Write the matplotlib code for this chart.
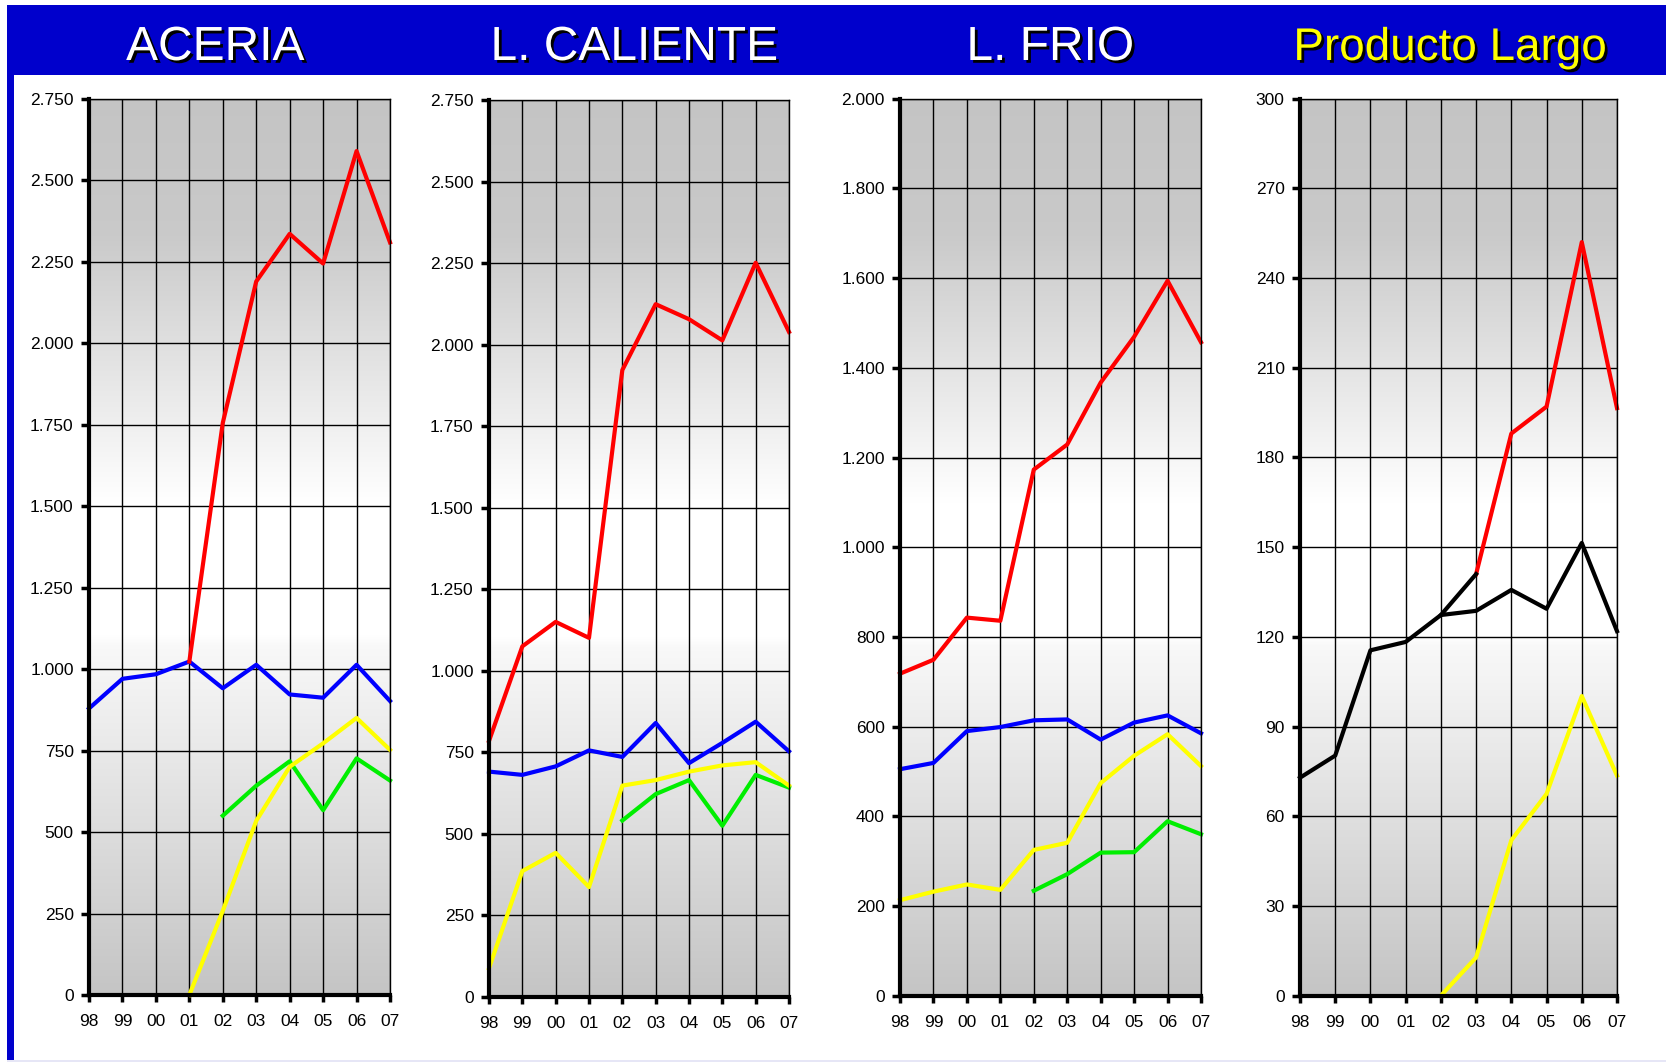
import numpy as np
import matplotlib
matplotlib.use("Agg")
import matplotlib.pyplot as plt
import matplotlib.patheffects as pe
from matplotlib.patches import Rectangle
from matplotlib.ticker import FuncFormatter, MultipleLocator

plt.rcParams['font.family'] = ['Liberation Sans', 'DejaVu Sans']

nan = np.nan
years = ['98', '99', '00', '01', '02', '03', '04', '05', '06', '07']

# ACERIA
aceria_rojo = [nan, nan, nan, 1023, 1755, 2189, 2335, 2244, 2589, 2309]
aceria_azul = [879, 970, 984, 1023, 941, 1013, 922, 912, 1013, 902]
aceria_amarillo = [nan, nan, nan, 0, 258, 534, 700, 772, 850, 752]
aceria_verde = [nan, nan, nan, nan, 550, 642, 717, 567, 726, 658]

# L. CALIENTE
caliente_rojo = [785, 1075, 1150, 1101, 1922, 2124, 2078, 2013, 2251, 2039]
caliente_azul = [691, 681, 707, 756, 736, 840, 717, 779, 844, 753]
caliente_amarillo = [88, 386, 442, 337, 648, 665, 691, 710, 720, 648]
caliente_verde = [nan, nan, nan, nan, 541, 622, 665, 525, 681, 642]

# L. FRIO
frio_rojo = [718, 749, 843, 836, 1173, 1229, 1367, 1469, 1594, 1457]
frio_azul = [505, 519, 590, 599, 614, 616, 571, 609, 625, 585]
frio_amarillo = [213, 232, 248, 236, 325, 341, 474, 535, 583, 512]
frio_verde = [nan, nan, nan, nan, 234, 271, 319, 320, 389, 360]

# Producto Largo
largo_negro = [72.9, 80.3, 115.5, 118.3, 127.3, 128.7, 135.7, 129.4, 151.4, 121.9]
largo_rojo = [nan, nan, nan, nan, 127.3, 141, 188, 197, 252, 196.5]
largo_amarillo = [nan, nan, nan, nan, 0, 12.8, 52, 67.5, 100.2, 73.6]

titulos = ['ACERIA', 'L. CALIENTE', 'L. FRIO', 'Producto Largo']
color_titulo = ['white', 'white', 'white', '#FFFF00']
tam_titulo = [34.5, 34.5, 34.5, 33]
y_max = [2750, 2750, 2000, 300]
y_paso = [250, 250, 200, 30]

W, H = 1666, 1062
fig = plt.figure(figsize=(W / 100, H / 100), dpi=100, facecolor='white')

def caja(x0, y0, x1, y1):
    # pixel box (top-left origin) -> figure fraction rect
    return [x0 / W, 1 - y1 / H, (x1 - x0) / W, (y1 - y0) / H]

# marco azul
fig.add_artist(Rectangle((7 / W, 1 - 75 / H), 1, 70 / H, transform=fig.transFigure,
                         facecolor='#0000CC', edgecolor='none', zorder=0))
fig.add_artist(Rectangle((7 / W, 1 - 1060 / H), 7 / W, 1055 / H, transform=fig.transFigure,
                         facecolor='#0000CC', edgecolor='none', zorder=0))
fig.add_artist(Rectangle((7 / W, 0), 1, 2 / H, transform=fig.transFigure,
                         facecolor='#E6E6F6', edgecolor='none', zorder=0))

posiciones = [(89, 98.6, 390, 995), (489, 100, 789, 997),
              (900, 98.7, 1201, 995.7), (1300, 98.6, 1617, 995.7)]
centros_titulo = [215, 634, 1050, 1450]

# gradiente de fondo: gris arriba, blanco hacia el 40-55 %, gris abajo
f = np.linspace(0, 1, 400)
g = np.interp(f, [0, 0.39, 0.40, 0.55, 0.85, 1.0], [0.77, 0.975, 1.0, 1.0, 0.79, 0.77])
G = np.repeat(g[::-1, None], 2, axis=1)
grad = np.dstack([G, G, G])

series = [
    [(aceria_azul, '#0000FF'), (aceria_rojo, '#FF0000'), (aceria_verde, '#00EE00'), (aceria_amarillo, '#FFFF00')],
    [(caliente_azul, '#0000FF'), (caliente_rojo, '#FF0000'), (caliente_verde, '#00EE00'), (caliente_amarillo, '#FFFF00')],
    [(frio_azul, '#0000FF'), (frio_rojo, '#FF0000'), (frio_verde, '#00EE00'), (frio_amarillo, '#FFFF00')],
    [(largo_negro, 'black'), (largo_amarillo, '#FFFF00')],
]

def miles(v, pos):
    return '{:,.0f}'.format(v).replace(',', '.')

x = np.arange(len(years))

for i in range(4):
    ax = fig.add_axes(caja(*posiciones[i]))
    ax.imshow(grad, extent=[0, 1, 0, 1], transform=ax.transAxes, aspect='auto',
              zorder=0, interpolation='bilinear')
    for vals, col in series[i]:
        ax.plot(x, vals, color=col, lw=3, clip_on=False, zorder=3)
    if i == 3:
        # la serie roja arranca en 02 con el primer tramo en negro
        r = np.array(largo_rojo)
        ax.plot(x[5:], r[5:], color='#FF0000', lw=3, clip_on=False, zorder=3)
        ax.plot(x[4:6], r[4:6], color='black', lw=3, clip_on=False, zorder=3)

    ax.set_xlim(0, 9)
    ax.set_ylim(0, y_max[i])
    ax.set_xticks(x)
    ax.set_xticklabels(years)
    ax.yaxis.set_major_locator(MultipleLocator(y_paso[i]))
    ax.yaxis.set_major_formatter(FuncFormatter(miles))
    ax.grid(True, color='black', lw=1.0, zorder=1)
    ax.set_axisbelow(False)
    for gl in ax.get_xgridlines() + ax.get_ygridlines():
        gl.set_zorder(1)
    ax.tick_params(axis='y', direction='out', length=6, width=2.5, labelsize=12.5, pad=5)
    ax.tick_params(axis='x', direction='out', length=5, width=2.5, labelsize=12.5, pad=9)
    ax.spines['left'].set_linewidth(3)
    ax.spines['bottom'].set_linewidth(3)
    ax.spines['top'].set_linewidth(1)
    ax.spines['right'].set_linewidth(1)
    for s in ax.spines.values():
        s.set_zorder(4)

    fig.text(centros_titulo[i] / W, 1 - 60 / H, titulos[i], ha='center', va='baseline',
             fontsize=tam_titulo[i], color=color_titulo[i],
             path_effects=[pe.withSimplePatchShadow(offset=(2, -2), shadow_rgbFace='black', alpha=1.0)])

fig.savefig('out.png', dpi=100, facecolor='white')
